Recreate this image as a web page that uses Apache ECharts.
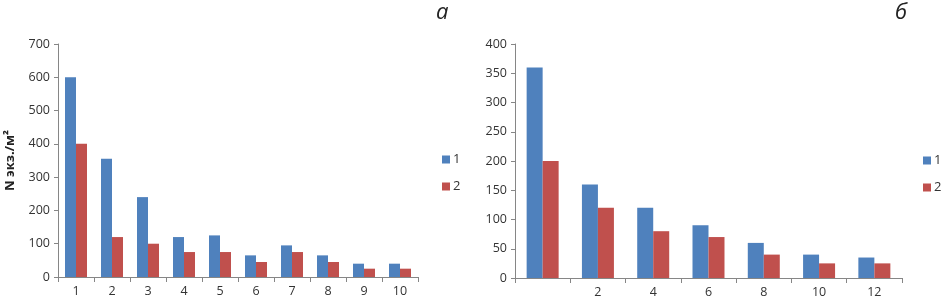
<!DOCTYPE html>
<html><head><meta charset="utf-8">
<script src="https://cdn.jsdelivr.net/npm/echarts@6/dist/echarts.min.js"></script>
<style>html,body{margin:0;padding:0;background:#fff}#c{width:945px;height:307px}</style>
</head><body><div id="c"></div>
<script>
const catsA = ['1','2','3','4','5','6','7','8','9','10'];
const a1 = [600, 355, 240, 120, 125, 65, 95, 65, 40, 40];
const a2 = [400, 120, 100, 75, 75, 45, 75, 45, 25, 25];
const catsB = ['', '2', '4', '6', '8', '10', '12'];
const b1 = [360, 160, 120, 90, 60, 40, 35];
const b2 = [200, 120, 80, 70, 40, 25, 25];
const seriesNames = ['1', '2'];
const yTitleA = 'N экз./м²';
const panelLabels = ['а', 'б'];

const BLUE = '#4F81BD', RED = '#C0504D', AX = '#868686', TXT = '#333';
const FONT = 'Open Sans';
const chart = echarts.init(document.getElementById('c'));
function xAxis(idx, data) {
  return {type:'category', gridIndex: idx, data: data,
    axisLine:{lineStyle:{color:AX}}, axisTick:{show:true, interval:0, length:5, lineStyle:{color:AX}},
    axisLabel:{interval:0, color:TXT, fontSize:12.5, fontFamily:FONT, margin:8}};
}
function yAxis(idx, max, interval, extra) {
  return Object.assign({type:'value', gridIndex: idx, min:0, max:max, interval:interval,
    axisLine:{show:true, lineStyle:{color:AX}}, axisTick:{show:true, length:4, lineStyle:{color:AX}},
    splitLine:{show:false},
    axisLabel:{color:TXT, fontSize:12.5, fontFamily:FONT, margin:8}}, extra||{});
}
chart.setOption({
  animation:false,
  grid:[
    {left:58, right:527, top:44, bottom:30},
    {left:515, right:43, top:44, bottom:29}
  ],
  xAxis:[xAxis(0, catsA), xAxis(1, catsB)],
  yAxis:[
    yAxis(0, 700, 100, {name:yTitleA, nameLocation:'middle', nameGap:41, nameRotate:90,
      nameTextStyle:{fontWeight:'bold', fontSize:13, color:'#222', fontFamily:FONT}}),
    yAxis(1, 400, 50)
  ],
  legend:[
    {orient:'vertical', left:437, top:148, itemWidth:8, itemHeight:8, itemGap:14, icon:'rect',
      textStyle:{color:TXT, fontSize:13, fontFamily:FONT, padding:[0,0,0,-2]}, data:seriesNames},
    {orient:'vertical', left:918, top:149, itemWidth:8, itemHeight:8, itemGap:14, icon:'rect',
      textStyle:{color:TXT, fontSize:13, fontFamily:FONT, padding:[0,0,0,-2]}, data:seriesNames}
  ],
  graphic:[
    {type:'text', left:436, top:2, style:{text:panelLabels[0], font:'italic 22px "Open Sans"', fill:'#222'}},
    {type:'text', left:895, top:2, style:{text:panelLabels[1], font:'italic 22px "Open Sans"', fill:'#222'}}
  ],
  series:[
    {name:seriesNames[0], type:'bar', xAxisIndex:0, yAxisIndex:0, data:a1, itemStyle:{color:BLUE}, barWidth:11, barGap:'0%'},
    {name:seriesNames[1], type:'bar', xAxisIndex:0, yAxisIndex:0, data:a2, itemStyle:{color:RED}, barWidth:11, barGap:'0%'},
    {name:seriesNames[0], type:'bar', xAxisIndex:1, yAxisIndex:1, data:b1, itemStyle:{color:BLUE}, barWidth:16, barGap:'0%'},
    {name:seriesNames[1], type:'bar', xAxisIndex:1, yAxisIndex:1, data:b2, itemStyle:{color:RED}, barWidth:16, barGap:'0%'}
  ]
});
</script></body></html>
